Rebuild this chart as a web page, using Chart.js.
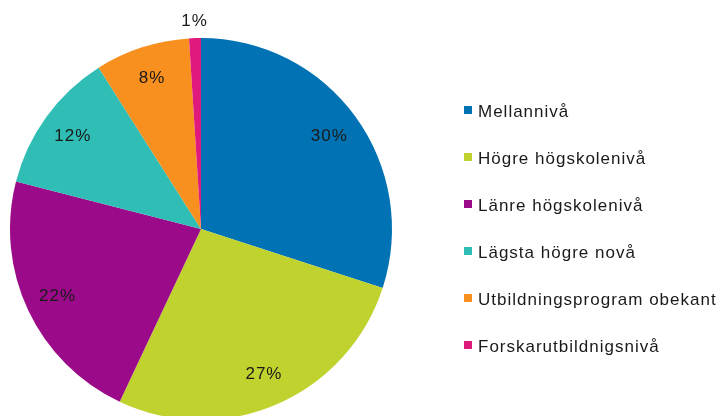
<!DOCTYPE html>
<html>
<head>
<meta charset="utf-8">
<script src="https://cdn.jsdelivr.net/npm/chart.js@4"></script>
<style>
  html, body { margin: 0; padding: 0; background: #fff; }
  #wrap { width: 722px; height: 416px; overflow: hidden; position: relative; }
  #wrap canvas { position: absolute; left: 0; top: 0; }
</style>
</head>
<body>
<div id="wrap"><canvas id="c" width="722" height="440"></canvas></div>
<script>
var labels = ["Mellannivå", "Högre högskolenivå", "Länre högskolenivå", "Lägsta högre novå", "Utbildningsprogram obekant", "Forskarutbildnigsnivå"];
var values = [30, 27, 22, 12, 8, 1];
var colors = ["#0172b3", "#bfd22e", "#9b0a89", "#2fbdb5", "#f7901e", "#e0197d"];

var font = "17px 'Liberation Sans', Arial, sans-serif";

var labelPlugin = {
  id: 'pctLabels',
  afterDatasetsDraw: function(chart) {
    var ctx = chart.ctx;
    var meta = chart.getDatasetMeta(0);
    ctx.save();
    ctx.font = font;
    ctx.letterSpacing = '1px';
    ctx.fillStyle = '#1a1a1a';
    ctx.textAlign = 'center';
    ctx.textBaseline = 'middle';
    meta.data.forEach(function(arc, i) {
      var mid = (arc.startAngle + arc.endAngle) / 2;
      var r = values[i] < 3 ? arc.outerRadius * 1.09 : arc.outerRadius * 0.83;
      ctx.fillText(values[i] + '%', arc.x + Math.cos(mid) * r, arc.y + Math.sin(mid) * r);
    });
    ctx.restore();
  }
};

var legendPlugin = {
  id: 'sideLegend',
  afterDraw: function(chart) {
    var ctx = chart.ctx;
    ctx.save();
    ctx.font = font;
    ctx.letterSpacing = '1px';
    ctx.textBaseline = 'middle';
    ctx.textAlign = 'left';
    labels.forEach(function(l, i) {
      var y = 112 + i * 47;
      ctx.fillStyle = colors[i];
      ctx.fillRect(464, y - 6, 8, 8);
      ctx.fillStyle = '#1a1a1a';
      ctx.fillText(l, 478, y);
    });
    ctx.restore();
  }
};

new Chart(document.getElementById('c'), {
  type: 'pie',
  data: {
    labels: labels,
    datasets: [{
      data: values,
      backgroundColor: colors,
      borderWidth: 0
    }]
  },
  options: {
    responsive: false,
    animation: false,
    layout: { padding: { left: 10, right: 330, top: 38, bottom: 20 } },
    plugins: {
      legend: { display: false },
      tooltip: { enabled: false }
    }
  },
  plugins: [labelPlugin, legendPlugin]
});
</script>
</body>
</html>
